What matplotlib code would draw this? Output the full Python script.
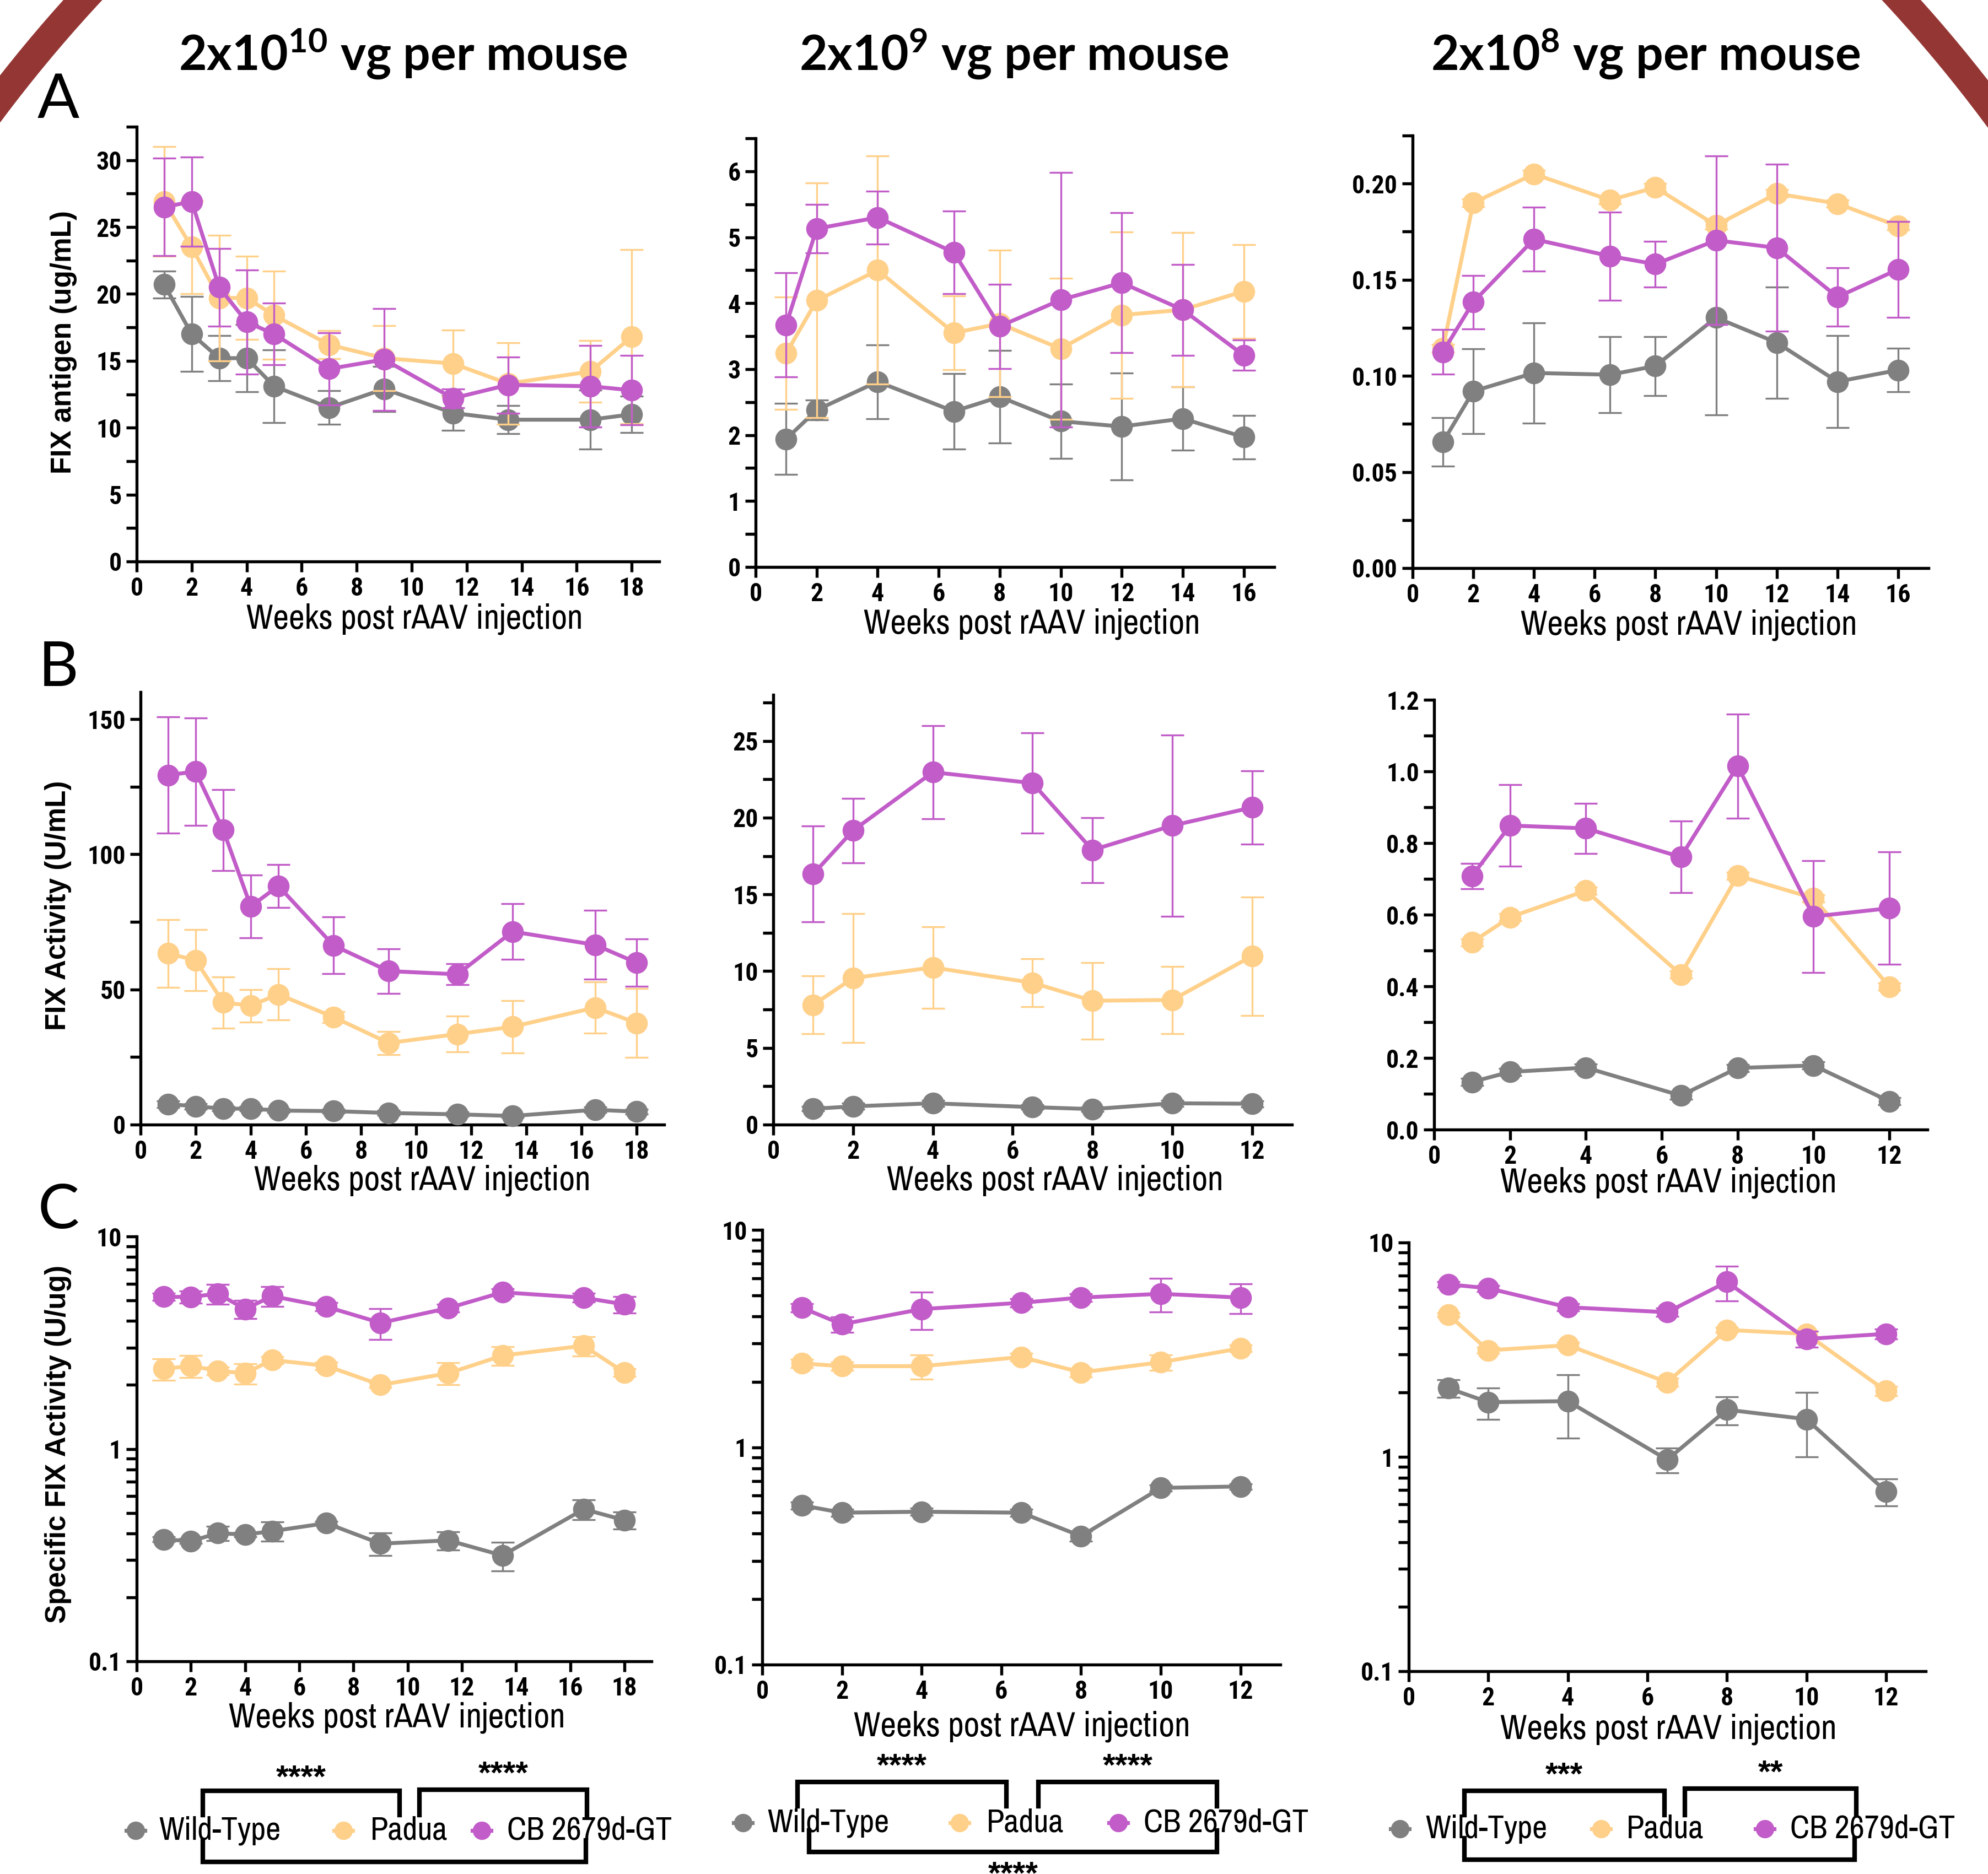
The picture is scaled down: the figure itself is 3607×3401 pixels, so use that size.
import matplotlib
matplotlib.use("Agg")
import matplotlib.pyplot as plt
import matplotlib.ticker as mticker
from matplotlib.patches import Ellipse
from matplotlib.lines import Line2D

# ---------------- data ----------------
groups = ["Wild-Type", "Padua", "CB 2679d-GT"]
dose_titles = [r"2x10$^{10}$ vg per mouse", r"2x10$^{9}$ vg per mouse", r"2x10$^{8}$ vg per mouse"]
row_labels = ["A", "B", "C"]
y_titles = ["FIX antigen (ug/mL)", "FIX Activity (U/mL)", "Specific FIX Activity (U/ug)"]
x_title = "Weeks post rAAV injection"
sig_col1 = ["****", "****", "****"]
sig_col2 = ["****", "****", "****"]
sig_col3 = ["***", "**", "***"]

weeks_18 = [1, 2, 3, 4, 5, 7, 9, 11.5, 13.5, 16.5, 18]
weeks_16 = [1, 2, 4, 6.5, 8, 10, 12, 14, 16]
weeks_12 = [1, 2, 4, 6.5, 8, 10, 12]

# Row A: FIX antigen (ug/mL)
a1_wt = [20.7, 17.0, 15.2, 15.2, 13.1, 11.5, 12.9, 11.1, 10.6, 10.6, 11.0]
a1_wt_err = [1.0, 2.8, 1.7, 2.5, 2.7, 1.25, 1.7, 1.3, 1.05, 2.2, 1.35]
a1_pad = [26.9, 23.5, 19.7, 19.7, 18.4, 16.2, 15.2, 14.8, 13.3, 14.2, 16.8]
a1_pad_err = [4.1, 3.5, 4.7, 3.1, 3.3, 1.05, 2.45, 2.5, 3.05, 2.3, 6.5]
a1_cb = [26.5, 26.9, 20.5, 17.9, 17.0, 14.4, 15.1, 12.2, 13.2, 13.1, 12.8]
a1_cb_err = [3.65, 3.35, 2.9, 3.9, 2.3, 2.7, 3.8, 0.7, 2.1, 3.05, 2.6]

a2_wt = [1.94, 2.38, 2.81, 2.36, 2.58, 2.21, 2.13, 2.25, 1.97]
a2_wt_err = [0.54, 0.15, 0.56, 0.57, 0.70, 0.56, 0.81, 0.48, 0.33]
a2_pad = [3.24, 4.04, 4.50, 3.55, 3.69, 3.31, 3.82, 3.90, 4.18]
a2_pad_err = [0.85, 1.78, 1.73, 0.56, 1.11, 1.07, 1.26, 1.17, 0.71]
a2_cb = [3.67, 5.13, 5.30, 4.77, 3.65, 4.05, 4.31, 3.90, 3.21]
a2_cb_err = [0.79, 0.37, 0.40, 0.63, 0.64, 1.93, 1.06, 0.69, 0.23]

a3_wt = [0.0656, 0.092, 0.1015, 0.1006, 0.1051, 0.1303, 0.1173, 0.097, 0.103]
a3_wt_err = [0.0126, 0.022, 0.026, 0.0197, 0.0154, 0.0507, 0.029, 0.024, 0.0114]
a3_pad = [0.1145, 0.190, 0.205, 0.1914, 0.198, 0.1783, 0.1948, 0.1896, 0.1779]
a3_pad_err = [0.002, 0.002, 0.002, 0.002, 0.002, 0.002, 0.002, 0.002, 0.002]
a3_cb = [0.1125, 0.1384, 0.1711, 0.1623, 0.1581, 0.1705, 0.1666, 0.141, 0.1554]
a3_cb_err = [0.0117, 0.0139, 0.0165, 0.0229, 0.012, 0.0439, 0.0434, 0.0152, 0.0249]

# Row B: FIX activity (U/mL)
b1_wt = [7.6, 6.8, 5.9, 5.9, 5.2, 5.0, 4.3, 3.8, 3.2, 5.5, 4.8]
b1_wt_err = [1.2, 1.0, 0.8, 0.9, 0.8, 0.7, 0.9, 0.8, 0.6, 1.0, 0.9]
b1_pad = [63.3, 60.8, 45.2, 44.0, 48.2, 39.8, 30.2, 33.5, 36.2, 43.3, 37.6]
b1_pad_err = [12.5, 11.3, 9.5, 6.0, 9.4, 2.0, 4.3, 6.6, 9.7, 9.5, 12.7]
b1_cb = [129.3, 130.6, 109.0, 80.7, 88.3, 66.3, 56.8, 55.6, 71.4, 66.5, 59.9]
b1_cb_err = [21.5, 19.9, 15.0, 11.7, 8.0, 10.5, 8.3, 3.9, 10.3, 12.7, 8.8]

b2_wt = [1.03, 1.19, 1.39, 1.14, 1.01, 1.39, 1.36]
b2_wt_err = [0.15, 0.2, 0.2, 0.15, 0.15, 0.2, 0.2]
b2_pad = [7.80, 9.55, 10.24, 9.24, 8.07, 8.12, 10.98]
b2_pad_err = [1.88, 4.2, 2.66, 1.55, 2.5, 2.2, 3.86]
b2_cb = [16.32, 19.16, 22.96, 22.25, 17.89, 19.48, 20.66]
b2_cb_err = [3.12, 2.1, 3.03, 3.27, 2.12, 5.9, 2.38]

b3_wt = [0.133, 0.161, 0.173, 0.095, 0.172, 0.179, 0.079]
b3_wt_err = [0.01, 0.01, 0.01, 0.01, 0.01, 0.01, 0.01]
b3_pad = [0.523, 0.593, 0.667, 0.433, 0.709, 0.646, 0.399]
b3_pad_err = [0.01, 0.01, 0.01, 0.01, 0.01, 0.01, 0.01]
b3_cb = [0.708, 0.849, 0.841, 0.761, 1.015, 0.595, 0.618]
b3_cb_err = [0.035, 0.114, 0.07, 0.1, 0.145, 0.156, 0.157]

# Row C: specific FIX activity (U/ug), log scale
c1_wt = [0.375, 0.368, 0.401, 0.395, 0.410, 0.447, 0.358, 0.371, 0.315, 0.520, 0.462]
c1_wt_err = [0.01, 0.01, 0.03, 0.01, 0.043, 0.01, 0.043, 0.036, 0.048, 0.055, 0.042]
c1_pad = [2.38, 2.46, 2.33, 2.27, 2.62, 2.46, 2.00, 2.27, 2.75, 3.06, 2.29]
c1_pad_err = [0.28, 0.29, 0.1, 0.25, 0.1, 0.1, 0.05, 0.27, 0.28, 0.32, 0.1]
c1_cb = [5.20, 5.19, 5.38, 4.55, 5.24, 4.67, 3.92, 4.60, 5.46, 5.15, 4.79]
c1_cb_err = [0.2, 0.35, 0.57, 0.45, 0.56, 0.2, 0.65, 0.2, 0.2, 0.25, 0.44]

c2_wt = [0.54, 0.50, 0.505, 0.50, 0.39, 0.65, 0.66]
c2_wt_err = [0.02, 0.02, 0.02, 0.02, 0.02, 0.02, 0.02]
c2_pad = [2.43, 2.36, 2.36, 2.60, 2.21, 2.46, 2.85]
c2_pad_err = [0.1, 0.1, 0.3, 0.1, 0.1, 0.2, 0.1]
c2_cb = [4.38, 3.68, 4.32, 4.62, 4.88, 5.08, 4.88]
c2_cb_err = [0.2, 0.3, 0.85, 0.2, 0.2, 0.9, 0.75]

c3_wt = [2.09, 1.80, 1.82, 0.97, 1.66, 1.50, 0.69]
c3_wt_err = [0.2, 0.3, 0.6, 0.13, 0.25, 0.5, 0.1]
c3_pad = [4.6, 3.14, 3.32, 2.23, 3.91, 3.75, 2.03]
c3_pad_err = [0.1, 0.1, 0.1, 0.1, 0.1, 0.1, 0.1]
c3_cb = [6.38, 6.12, 4.99, 4.73, 6.55, 3.55, 3.75]
c3_cb_err = [0.2, 0.2, 0.2, 0.2, 1.2, 0.3, 0.2]

# ---------------- style ----------------
W, H, DPI = 3607, 3401, 300
NARROW = ["Liberation Sans Narrow", "Archivo Narrow", "Roboto Condensed",
          "Liberation Sans", "DejaVu Sans"]
TICKF = ["Roboto Condensed", "Archivo Narrow", "Liberation Sans Narrow",
         "Liberation Sans", "DejaVu Sans"]
ARIAL = ["Liberation Sans", "DejaVu Sans"]
CAL = ["Lato", "DejaVu Sans"]
colors = ["#808080", "#FFD08A", "#C15CC8"]
LW, MS, CAP, ELW = 1.7, 8.5, 5, 0.8
SPW, TL = 1.3, 4.5

plt.rcParams["font.family"] = TICKF
plt.rcParams["font.stretch"] = "condensed"
plt.rcParams["font.weight"] = "bold"
plt.rcParams["mathtext.default"] = "regular"

fig = plt.figure(figsize=(W / DPI, H / DPI), dpi=DPI)
fig.patch.set_facecolor("white")

ov = fig.add_axes([0, 0, 1, 1])
ov.set_xlim(0, W)
ov.set_ylim(H, 0)
ov.axis("off")

# decorative ring
ov.add_patch(Ellipse((1800, 2000), 2 * 2397, 2 * 2757, fill=False,
                     edgecolor="#943634", lw=12.5, zorder=0))


def panel(box, weeks, vals, errs, xmax, ymax, ymajor, yminor, fmt=None, log=False):
    l, t, r, b = box
    ax = fig.add_axes([l / W, 1 - b / H, (r - l) / W, (b - t) / H])
    ax.set_facecolor("none")
    for i, (v, e, c) in enumerate(zip(vals, errs, colors)):
        ax.errorbar(weeks, v, yerr=e, fmt="none", ecolor=c, capsize=CAP,
                    elinewidth=ELW, capthick=ELW, zorder=2 + 2 * i, clip_on=False)
        ax.plot(weeks, v, color=c, lw=LW, marker="o", ms=MS, mec=c, mfc=c,
                zorder=3 + 2 * i, clip_on=False)
    ax.set_xlim(0, xmax)
    ax.set_xticks(list(range(0, xmax, 2)))
    if log:
        ax.set_yscale("log")
        ax.set_ylim(0.1, 10)
        ax.yaxis.set_major_locator(mticker.FixedLocator([0.1, 1, 10]))
        ax.yaxis.set_major_formatter(mticker.FuncFormatter(lambda v, _: f"{v:g}"))
        ax.yaxis.set_minor_locator(mticker.LogLocator(base=10, subs=range(2, 10)))
        ax.yaxis.set_minor_formatter(mticker.NullFormatter())
    else:
        ax.set_ylim(0, ymax)
        ax.yaxis.set_major_locator(mticker.MultipleLocator(ymajor))
        ax.yaxis.set_minor_locator(mticker.MultipleLocator(yminor))
        if fmt:
            ax.yaxis.set_major_formatter(mticker.FormatStrFormatter(fmt))
    for s in ["top", "right"]:
        ax.spines[s].set_visible(False)
    for s in ["left", "bottom"]:
        ax.spines[s].set_linewidth(SPW)
    ax.tick_params(axis="both", which="both", direction="out", length=TL, width=SPW,
                   labelsize=11, pad=2)
    return ax


cols = [
    [(248, 230, 1196, 1019), (1371, 251, 2312, 1029), (2563, 246, 3499, 1031)],
    [(255, 1256, 1205, 2041), (1403, 1261, 2344, 2041), (2602, 1270, 3497, 2050)],
    [(248, 2244, 1182, 3015), (1383, 2232, 2323, 3021), (2556, 2255, 3494, 3033)],
]

panel(cols[0][0], weeks_18, [a1_wt, a1_pad, a1_cb], [a1_wt_err, a1_pad_err, a1_cb_err], 19, 32.5, 5, 2.5)
panel(cols[0][1], weeks_16, [a2_wt, a2_pad, a2_cb], [a2_wt_err, a2_pad_err, a2_cb_err], 17, 6.5, 1, 0.5)
panel(cols[0][2], weeks_16, [a3_wt, a3_pad, a3_cb], [a3_wt_err, a3_pad_err, a3_cb_err], 17, 0.225, 0.05, 0.025, "%.2f")
panel(cols[1][0], weeks_18, [b1_wt, b1_pad, b1_cb], [b1_wt_err, b1_pad_err, b1_cb_err], 19, 160, 50, 25)
panel(cols[1][1], weeks_12, [b2_wt, b2_pad, b2_cb], [b2_wt_err, b2_pad_err, b2_cb_err], 13, 28, 5, 2.5)
panel(cols[1][2], weeks_12, [b3_wt, b3_pad, b3_cb], [b3_wt_err, b3_pad_err, b3_cb_err], 13, 1.2, 0.2, 0.1, "%.1f")
panel(cols[2][0], weeks_18, [c1_wt, c1_pad, c1_cb], [c1_wt_err, c1_pad_err, c1_cb_err], 19, None, None, None, log=True)
panel(cols[2][1], weeks_12, [c2_wt, c2_pad, c2_cb], [c2_wt_err, c2_pad_err, c2_cb_err], 13, None, None, None, log=True)
panel(cols[2][2], weeks_12, [c3_wt, c3_pad, c3_cb], [c3_wt_err, c3_pad_err, c3_cb_err], 13, None, None, None, log=True)

# titles
for txt, cx in zip(dose_titles, [731, 1840, 2986]):
    ov.text(cx, 127, txt, ha="center", va="baseline", fontsize=21, family=CAL,
            weight="bold", stretch="normal")
# row letters
for txt, cy in zip(row_labels, [182, 1213, 2197]):
    ov.text(106, cy, txt, ha="center", va="center", fontsize=27, family=CAL,
            weight="normal", stretch="normal")
# y titles
for txt, (cx, cy) in zip(y_titles, [(115, 621), (106, 1643), (106, 2621)]):
    ov.text(cx, cy, txt, ha="center", va="center", rotation=90, fontsize=12.3,
            family=ARIAL, weight="bold", stretch="normal")
# x titles
for cx, cy in [(752, 1123), (1872, 1132), (3064, 1134),
               (766, 2142), (1914, 2142), (3027, 2146),
               (720, 3117), (1854, 3133), (3027, 3138)]:
    ov.text(cx, cy, x_title, ha="center", va="center", fontsize=15, family=NARROW,
            weight="normal")

# legends
legend_rows = [
    (3322, [246, 623, 874], [288, 672, 920]),
    (3308, [1348, 1741, 2029], [1392, 1790, 2075]),
    (3319, [2540, 2905, 3202], [2586, 2951, 3248]),
]
for y, mxs, txs in legend_rows:
    for mx, tx, c, g in zip(mxs, txs, colors, groups):
        ov.add_line(Line2D([mx - 17, mx + 17], [y, y], color=c, lw=LW))
        ov.plot([mx], [y], marker="o", ms=7, color=c, mec=c)
        ov.text(tx, y, g, ha="left", va="center", fontsize=14.2, family=NARROW,
                weight="normal")


def bracket(x0, x1, ybar, yleg, label=None, lc=None):
    ov.add_line(Line2D([x0, x0, x1, x1], [yleg, ybar, ybar, yleg], color="black",
                       lw=2.0, solid_joinstyle="miter"))
    if label:
        ov.text((x0 + x1) / 2, lc + 14, label, ha="center", va="baseline",
                fontsize=14, family=ARIAL, weight="bold", stretch="normal")


bracket(368, 725, 3250, 3294, sig_col1[0], 3230)
bracket(761, 1065, 3248, 3294, sig_col1[1], 3223)
bracket(368, 1063, 3379, 3340)
bracket(1447, 1826, 3234, 3278, sig_col2[0], 3209)
bracket(1884, 2208, 3234, 3278, sig_col2[1], 3209)
bracket(1468, 2208, 3361, 3322, sig_col2[2], 3405)
bracket(2657, 3020, 3250, 3294, sig_col3[0], 3225)
bracket(3057, 3368, 3246, 3294, sig_col3[1], 3221)
bracket(2657, 3365, 3375, 3336)

fig.savefig("out.png", dpi=DPI)
